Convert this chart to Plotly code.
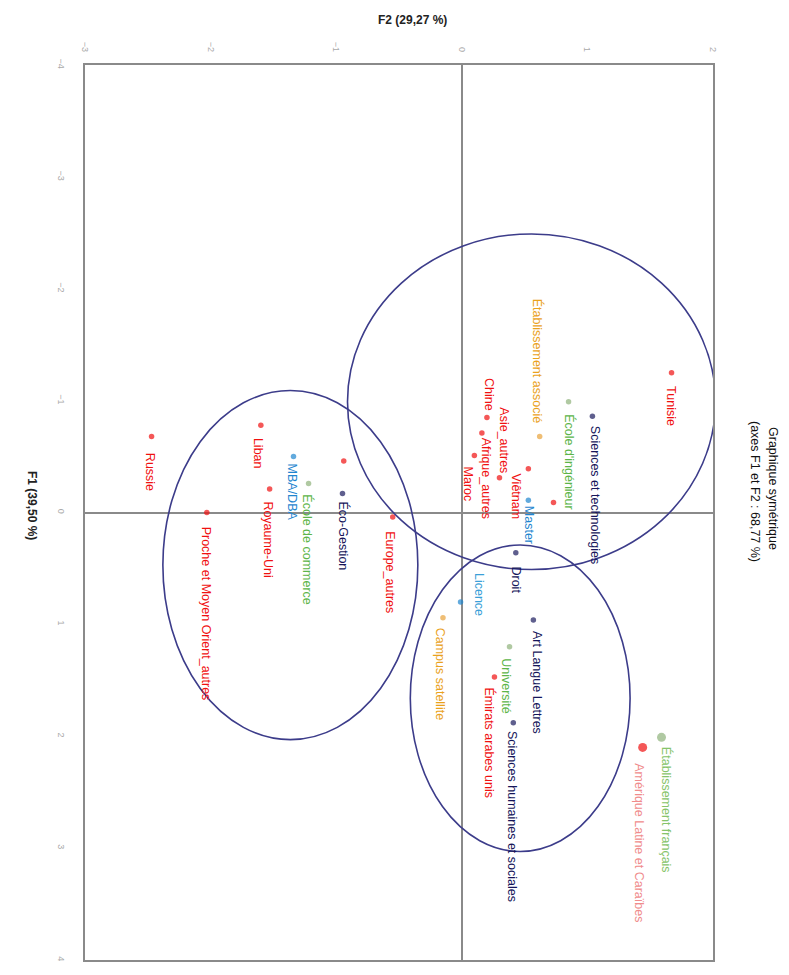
import plotly.graph_objects as go

# Correspondence analysis coordinates (F1, F2) of the modalities
names = [
    "Sciences et technologies", "Droit", "Éco-Gestion", "Art Langue Lettres",
    "Sciences humaines et sociales",
    "École d'ingénieur", "École de commerce", "Université", "Établissement français",
    "MBA/DBA", "Master", "Licence",
    "Établissement associé", "Campus satellite",
    "Tunisie", "Chine", "Afrique_autres", "Maroc", "Asie_autres", "Viêtnam", "",
    "Europe_autres", "Liban", "Royaume-Uni", "Russie", "Proche et Moyen Orient_autres",
    "", "Émirats arabes unis", "Amérique Latine et Caraïbes",
]
f1 = [
    -0.86, 0.36, -0.17, 0.96, 1.88,
    -0.99, -0.26, 1.20, 2.01,
    -0.50, -0.11, 0.80,
    -0.68, 0.94,
    -1.25, -0.85, -0.71, -0.51, -0.31, -0.39, -0.09,
    0.04, -0.78, -0.21, -0.68, 0.00,
    -0.46, 1.47, 2.10,
]
f2 = [
    1.04, 0.43, -0.95, 0.57, 0.41,
    0.85, -1.22, 0.38, 1.59,
    -1.34, 0.53, -0.01,
    0.62, -0.15,
    1.67, 0.20, 0.16, 0.10, 0.30, 0.53, 0.73,
    -0.55, -1.60, -1.53, -2.47, -2.03,
    -0.94, 0.26, 1.44,
]
groups = (["navy"] * 5 + ["green"] * 4 + ["blue"] * 3 + ["orange"] * 2
          + ["red"] * 15)

# Clusters circled on the map: (F2 min, F2 max, F1 min, F1 max)
clusters = [
    (-0.91, 2.02, -2.49, 0.51),
    (-2.38, -0.35, -1.09, 2.03),
    (-0.41, 1.34, 0.29, 3.03),
]

tick_f1 = [-4, -3, -2, -1, 0, 1, 2, 3, 4]
tick_f2 = [-3, -2, -1, 0, 1, 2]

marker_colors = {"navy": "#1b1b5e", "green": "#8fb27a", "blue": "#1f86cf",
                 "orange": "#e8a23a", "red": "#f01010"}
label_colors = {"navy": "#15155a", "green": "#5cb548", "blue": "#1f86cf",
                "orange": "#eaa21c", "red": "#f01010"}
big_points = {"Établissement français", "Amérique Latine et Caraïbes"}
soft_labels = {"Établissement français": "#86c46a",
               "Amérique Latine et Caraïbes": "#f08c8c",
               "Licence": "#3aa0d8"}

# label placement in pixels: (dx, dy, side) with side "below"/"above" the dot
label_pos = {
    "Tunisie": (0, 12, "below"),
    "Sciences et technologies": (2, 9, "below"),
    "École d'ingénieur": (1, 11, "below"),
    "Établissement associé": (-2, 13, "above"),
    "Chine": (2, 5, "above"),
    "Asie_autres": (5, 3, "above"),
    "Afrique_autres": (5, 4, "below"),
    "Maroc": (-6, 10, "below"),
    "Viêtnam": (-12, 4, "below"),
    "Master": (0, 5, "below"),
    "Droit": (0, 13, "below"),
    "Licence": (19, -15, "above"),
    "Campus satellite": (-3, 9, "below"),
    "Art Langue Lettres": (3, 10, "below"),
    "Université": (-3, 10, "below"),
    "Émirats arabes unis": (-5, 10, "below"),
    "Sciences humaines et sociales": (-2, 7, "below"),
    "Établissement français": (5, 8, "below"),
    "Amérique Latine et Caraïbes": (-4, 15, "below"),
    "Europe_autres": (-3, 13, "below"),
    "Éco-Gestion": (1, 7, "below"),
    "École de commerce": (-1, 10, "below"),
    "MBA/DBA": (-2, 6, "below"),
    "Liban": (-3, 12, "below"),
    "Royaume-Uni": (-2, 11, "below"),
    "Russie": (-2, 15, "below"),
    "Proche et Moyen Orient_autres": (0, 13, "below"),
}

FONT = "Liberation Sans, Arial, sans-serif"

fig = go.Figure()

for g in ["navy", "green", "blue", "orange", "red"]:
    idx = [i for i, gg in enumerate(groups) if gg == g]
    fig.add_trace(go.Scatter(
        x=[f2[i] for i in idx], y=[f1[i] for i in idx], mode="markers",
        marker=dict(color=marker_colors[g],
                    size=[9 if names[i] in big_points else 5.5 for i in idx],
                    line=dict(width=0)),
        showlegend=False, hoverinfo="skip"))

annotations = []
for n, x, y, g in zip(names, f2, f1, groups):
    if not n:
        continue
    dx, dy, side = label_pos[n]
    annotations.append(dict(
        x=x, y=y, xref="x", yref="y", text=n, showarrow=False, textangle=90,
        xanchor="center", yanchor="top" if side == "below" else "bottom",
        xshift=dx, yshift=-dy if side == "below" else dy,
        font=dict(family=FONT, size=12.5, color=soft_labels.get(n, label_colors[g])),
        borderpad=0))

# axis titles and chart caption
annotations += [
    dict(text="<b>F2 (29,27 %)</b>", x=412, y=975 - 20, xref="paper", yref="paper",
         showarrow=False, font=dict(family=FONT, size=12, color="#222")),
    dict(text="<b>F1 (39,50 %)</b>", x=32, y=975 - 505, textangle=90,
         showarrow=False, font=dict(family=FONT, size=12, color="#222")),
    dict(text="Graphique symétrique", x=773, y=975 - 488, textangle=90,
         showarrow=False, font=dict(family=FONT, size=12.5, color="#111")),
    dict(text="(axes F1 et F2 : 68,77 %)", x=755, y=975 - 491, textangle=90,
         showarrow=False, font=dict(family=FONT, size=12.5, color="#111")),
]
# place the title/caption annotations in pixel space
W, H = 789, 975
L, R, T, B = 85, 76, 65, 15
for a in annotations[-4:]:
    a["xref"] = "paper"
    a["yref"] = "paper"
    a["x"] = (a["x"] - L) / (W - L - R)
    a["y"] = (a["y"] - B) / (H - T - B)
    a["xanchor"] = "center"
    a["yanchor"] = "middle"

shapes = [dict(type="circle", xref="x", yref="y", x0=c[0], x1=c[1], y0=c[2], y1=c[3],
               line=dict(color="#3c3c8a", width=1.6)) for c in clusters]

fig.update_layout(
    width=W, height=H, margin=dict(l=L, r=R, t=T, b=B),
    paper_bgcolor="white", plot_bgcolor="white",
    annotations=annotations, shapes=shapes,
    xaxis=dict(range=[-3, 2], side="top", tickvals=tick_f2, tickangle=90,
               tickfont=dict(family=FONT, size=9, color="#aaa"), ticks="",
               ticklabelstandoff=8,
               showgrid=False, zeroline=True, zerolinecolor="#8a8a8a",
               zerolinewidth=1.5, showline=True, mirror=True,
               linecolor="#8a8a8a", linewidth=1.5),
    yaxis=dict(range=[4, -4], tickvals=tick_f1, tickangle=90,
               tickfont=dict(family=FONT, size=9, color="#aaa"), ticks="",
               ticklabelstandoff=14,
               showgrid=False, zeroline=True, zerolinecolor="#8a8a8a",
               zerolinewidth=1.5, showline=True, mirror=True,
               linecolor="#8a8a8a", linewidth=1.5),
    # small tick marks along the zero lines
    xaxis2=dict(range=[-3, 2], overlaying="x", anchor="free", position=0.5,
                tickvals=tick_f2, ticks="outside", ticklen=3, tickcolor="#8a8a8a",
                showticklabels=False, showgrid=False, zeroline=False, showline=False),
    xaxis3=dict(range=[-3, 2], overlaying="x", anchor="free", position=0.5,
                tickvals=tick_f2, ticks="inside", ticklen=3, tickcolor="#8a8a8a",
                showticklabels=False, showgrid=False, zeroline=False, showline=False),
    yaxis2=dict(range=[4, -4], overlaying="y", anchor="free", position=0.6,
                tickvals=tick_f1, ticks="outside", ticklen=3, tickcolor="#8a8a8a",
                showticklabels=False, showgrid=False, zeroline=False, showline=False),
    yaxis3=dict(range=[4, -4], overlaying="y", anchor="free", position=0.6,
                tickvals=tick_f1, ticks="inside", ticklen=3, tickcolor="#8a8a8a",
                showticklabels=False, showgrid=False, zeroline=False, showline=False),
)

fig.write_html("out.html")
